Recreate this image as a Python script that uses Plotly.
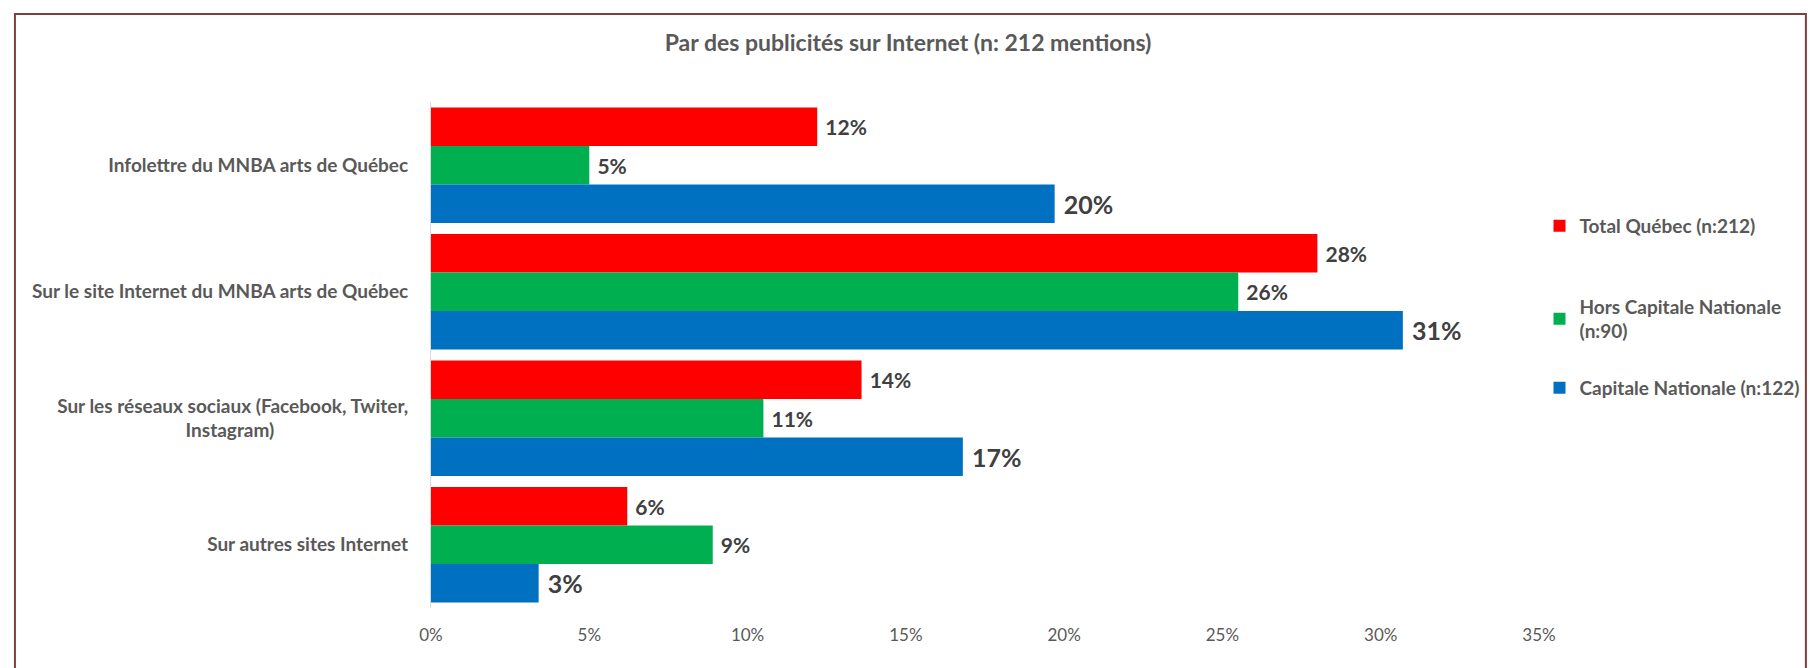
import plotly.graph_objects as go

NB = "\u00a0"

categories = [
    "Infolettre du MNBA arts de Québec",
    "Sur le site Internet du MNBA arts de Québec",
    "Sur les réseaux sociaux (Facebook, Twiter,<br>Instagram)" + NB * 29,
    "Sur autres sites Internet",
]
series_names = [
    "Total Québec (n:212)",
    "Hors Capitale Nationale<br>(n:90)",
    "Capitale Nationale (n:122)",
]
total_quebec = [12.2, 28.0, 13.6, 6.2]
hors_capitale = [5.0, 25.5, 10.5, 8.9]
capitale = [19.7, 30.7, 16.8, 3.4]
total_labels = ["12%", "28%", "14%", "6%"]
hors_labels = ["5%", "26%", "11%", "9%"]
capitale_labels = ["20%", "31%", "17%", "3%"]
x_tick_vals = [0, 5, 10, 15, 20, 25, 30, 35]
x_tick_text = ["0%", "5%", "10%", "15%", "20%", "25%", "30%", "35%"]

colors = ["#FF0000", "#00B050", "#0070C0"]
label_sizes = [21, 21, 25]
values = [total_quebec, hors_capitale, capitale]
labels = [total_labels, hors_labels, capitale_labels]
legends = ["legend", "legend2", "legend3"]

FONT = "Lato"
W, H = 1816, 668
L, R, T, B = 431, 274.5, 102, 60

fig = go.Figure()
for name, vals, labs, col, ls, lg in zip(series_names, values, labels, colors, label_sizes, legends):
    fig.add_trace(go.Bar(
        y=categories, x=vals, name=name, orientation="h",
        marker=dict(color=col, line=dict(width=0)),
        text=[NB + t for t in labs], textposition="outside",
        textfont=dict(family=FONT, size=ls, color="#404040", weight="bold"),
        constraintext="none", cliponaxis=False, legend=lg,
        hoverinfo="skip",
    ))

def px2paper_x(px):
    return (px - L) / (W - L - R)

def px2paper_y(py):
    return 1 - (py - T) / (H - T - B)

legend_font = dict(family=FONT, size=19, color="#595959", weight="bold")
leg_common = dict(font=legend_font, bgcolor="rgba(0,0,0,0)", xanchor="left",
                  yanchor="middle", x=px2paper_x(1542), itemwidth=30)

fig.update_layout(
    width=W, height=H,
    margin=dict(l=L, r=R, t=T, b=B),
    paper_bgcolor="white", plot_bgcolor="white",
    barmode="group", bargap=0.087, bargroupgap=0,
    font=dict(family=FONT, color="#595959"),
    title=dict(text="Par des publicités sur Internet (n: 212 mentions)",
               x=0.5, xref="container", xanchor="center",
               y=1 - 43 / H, yref="container", yanchor="middle",
               font=dict(family=FONT, size=23, color="#595959", weight="bold")),
    xaxis=dict(range=[0, 35], tickmode="array", tickvals=x_tick_vals, ticktext=x_tick_text,
               showgrid=False, zeroline=False, showline=False, ticks="",
               ticklabelstandoff=15,
               tickfont=dict(family=FONT, size=17, color="#595959")),
    yaxis=dict(autorange="reversed", showgrid=False, zeroline=False,
               showline=True, linecolor="#D9D9D9", linewidth=1, ticks="",
               ticklabelstandoff=18,
               tickfont=dict(family=FONT, size=19, color="#595959", weight="bold")),
    legend=dict(y=px2paper_y(226), **leg_common),
    legend2=dict(y=px2paper_y(319), **leg_common),
    legend3=dict(y=px2paper_y(388), **leg_common),
    showlegend=True,
)

# maroon frame around the chart area
fig.add_shape(type="rect", xref="paper", yref="paper",
              x0=px2paper_x(14), x1=px2paper_x(1809),
              y0=px2paper_y(700), y1=px2paper_y(14),
              line=dict(color="#7F3F3F", width=2), fillcolor="rgba(0,0,0,0)",
              layer="below")

fig.write_html("out.html")
